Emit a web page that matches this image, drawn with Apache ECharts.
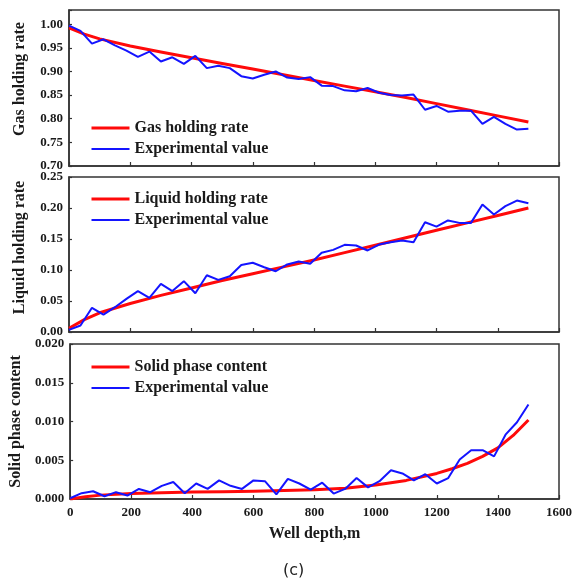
<!DOCTYPE html>
<html><head><meta charset="utf-8">
<script src="https://cdn.jsdelivr.net/npm/echarts@6/dist/echarts.min.js"></script>
<style>html,body{margin:0;padding:0;background:#fff}#c{width:575px;height:586px}</style>
</head><body><div id="c"></div>
<script>
// Well depth (m) of experimental points
const depth = [0, 37.5, 75, 112.5, 150, 187.5, 225, 262.5, 300, 337.5, 375, 412.5, 450, 487.5, 525, 562.5, 600, 637.5, 675, 712.5, 750, 787.5, 825, 862.5, 900, 937.5, 975, 1012.5, 1050, 1087.5, 1125, 1162.5, 1200, 1237.5, 1275, 1312.5, 1350, 1387.5, 1425, 1462.5, 1500];
const gasExp = [0.997, 0.986, 0.959, 0.968, 0.955, 0.944, 0.931, 0.942, 0.921, 0.930, 0.916, 0.933, 0.907, 0.912, 0.907, 0.890, 0.885, 0.893, 0.900, 0.887, 0.884, 0.888, 0.870, 0.869, 0.860, 0.858, 0.865, 0.855, 0.850, 0.849, 0.851, 0.819, 0.827, 0.815, 0.817, 0.817, 0.789, 0.804, 0.789, 0.777, 0.779];
const liquidExp = [0.0035, 0.0105, 0.039, 0.028, 0.040, 0.0535, 0.066, 0.055, 0.0777, 0.066, 0.082, 0.0626, 0.0916, 0.084, 0.090, 0.108, 0.1116, 0.1045, 0.098, 0.109, 0.1137, 0.110, 0.1277, 0.1325, 0.1406, 0.1395, 0.1315, 0.141, 0.1448, 0.1476, 0.1448, 0.177, 0.170, 0.180, 0.176, 0.176, 0.2056, 0.1895, 0.203, 0.212, 0.2077];
const solidExp = [0.0001, 0.00075, 0.0010, 0.00036, 0.00088, 0.00045, 0.0013, 0.00088, 0.0017, 0.0022, 0.00075, 0.0020, 0.0013, 0.0024, 0.0017, 0.0013, 0.0024, 0.0023, 0.0006, 0.0026, 0.0020, 0.0012, 0.0021, 0.0007, 0.0013, 0.0027, 0.0015, 0.0023, 0.0037, 0.0033, 0.0024, 0.0032, 0.0020, 0.0027, 0.0051, 0.0063, 0.0063, 0.0055, 0.0083, 0.0099, 0.0122];

// Model curves
const modelDepth = [0, 50, 100, 200, 300, 400, 500, 600, 700, 800, 900, 1000, 1100, 1200, 1300, 1400, 1500];
const gasModel = [0.992, 0.979, 0.969, 0.954, 0.941, 0.929, 0.917, 0.905, 0.893, 0.881, 0.869, 0.857, 0.845, 0.832, 0.819, 0.806, 0.793];
const liquidModel = [0.006, 0.020, 0.031, 0.046, 0.059, 0.071, 0.083, 0.094, 0.105, 0.116, 0.128, 0.140, 0.152, 0.164, 0.176, 0.188, 0.200];
const solidModelDepth = [0, 50, 100, 200, 300, 400, 500, 600, 700, 800, 900, 1000, 1100, 1200, 1250, 1300, 1350, 1400, 1450, 1500];
const solidModel = [0, 0.0003, 0.0005, 0.0007, 0.0008, 0.0009, 0.00095, 0.0010, 0.0011, 0.0012, 0.0014, 0.0018, 0.0024, 0.0033, 0.0039, 0.0046, 0.0055, 0.0066, 0.0082, 0.0102];

const panelNames = ['Gas holding rate', 'Liquid holding rate', 'Solid phase content'];
const expName = 'Experimental value';
const yScales = [
  {min: 0.70, max: 1.03, interval: 0.05, dec: 2},
  {min: 0.00, max: 0.25, interval: 0.05, dec: 2},
  {min: 0.000, max: 0.020, interval: 0.005, dec: 3}
];
const xScale = {min: 0, max: 1600, interval: 200};
const xTitle = 'Well depth,m';
const caption = '(c)';

const FONT = '"Liberation Serif", "Times New Roman", serif';
const TXT = '#1a1a1a';
const RED = '#ff0a0a';
const BLUE = '#1414ff';

const pair = (xs, ys) => xs.map((x, i) => [x, ys[i]]);

const gridTops = [10, 177, 344];
const gridHeights = [156, 155, 155];
const legendTops = [120, 191, 359];
const namePad = [[0, 0, 0, 18], [0, 0, 0, 14], [0, 0, 0, 0]];

const grids = [], xAxes = [], yAxes = [], legends = [], series = [];
const models = [[modelDepth, gasModel], [modelDepth, liquidModel], [solidModelDepth, solidModel]];
const exps = [gasExp, liquidExp, solidExp];

for (let p = 0; p < 3; p++) {
  grids.push({left: 69, width: 490, top: gridTops[p], height: gridHeights[p], show: true,
    borderColor: '#333', borderWidth: 1.5, backgroundColor: 'transparent'});
  const last = p === 2;
  xAxes.push({type: 'value', gridIndex: p, min: xScale.min, max: xScale.max, interval: xScale.interval,
    axisLine: {lineStyle: {color: '#333', width: 1.5}},
    axisTick: {show: true, inside: true, length: 4, lineStyle: {color: '#333', width: 1.2}},
    splitLine: {show: false},
    axisLabel: {show: last, margin: 7, fontFamily: FONT, fontWeight: 'bold', fontSize: 13, color: TXT,
      formatter: v => String(v)},
    name: last ? xTitle : '', nameLocation: 'middle', nameGap: 27,
    nameTextStyle: {fontFamily: FONT, fontWeight: 'bold', fontSize: 16, color: TXT}
  });
  const ys = yScales[p];
  yAxes.push({type: 'value', gridIndex: p, min: ys.min, max: ys.max, interval: ys.interval,
    axisLine: {show: true, lineStyle: {color: '#333', width: 1.5}},
    axisTick: {show: true, inside: true, length: 3, lineStyle: {color: '#333', width: 1.2}},
    splitLine: {show: false},
    axisLabel: {margin: 6, fontFamily: FONT, fontWeight: 'bold', fontSize: 13, color: TXT,
      formatter: v => {
        const k = Math.round((v - ys.min) / ys.interval);
        return Math.abs(ys.min + k * ys.interval - v) < 1e-9 ? v.toFixed(ys.dec) : '';
      }},
    name: panelNames[p], nameLocation: 'middle', nameGap: 41, nameRotate: 90,
    nameTextStyle: {fontFamily: FONT, fontWeight: 'bold', fontSize: 16, color: TXT, padding: namePad[p]}
  });
  legends.push({orient: 'vertical', left: 90, top: legendTops[p], padding: 0,
    itemWidth: 38, itemHeight: 14, itemGap: 5,
    itemStyle: {opacity: 0},
    lineStyle: {width: 'inherit'},
    textStyle: {fontFamily: FONT, fontWeight: 'bold', fontSize: 16, color: TXT},
    data: [panelNames[p], expName]});
  series.push({name: panelNames[p], type: 'line', xAxisIndex: p, yAxisIndex: p,
    data: pair(models[p][0], models[p][1]), smooth: false, symbol: 'none',
    lineStyle: {color: RED, width: 3, join: 'round'}, itemStyle: {color: RED}, z: 2});
  series.push({name: expName, type: 'line', xAxisIndex: p, yAxisIndex: p,
    data: pair(depth, exps[p]), symbol: 'none',
    lineStyle: {color: BLUE, width: 2}, itemStyle: {color: BLUE}, z: 3});
}

const chart = echarts.init(document.getElementById('c'), null, {renderer: 'canvas'});
chart.setOption({
  animation: false,
  backgroundColor: '#fff',
  grid: grids, xAxis: xAxes, yAxis: yAxes, legend: legends, series: series,
  graphic: [{type: 'text', left: 283, top: 563,
    style: {text: caption, font: '16px "DejaVu Sans", sans-serif', fill: '#222'}}]
});
</script></body></html>
